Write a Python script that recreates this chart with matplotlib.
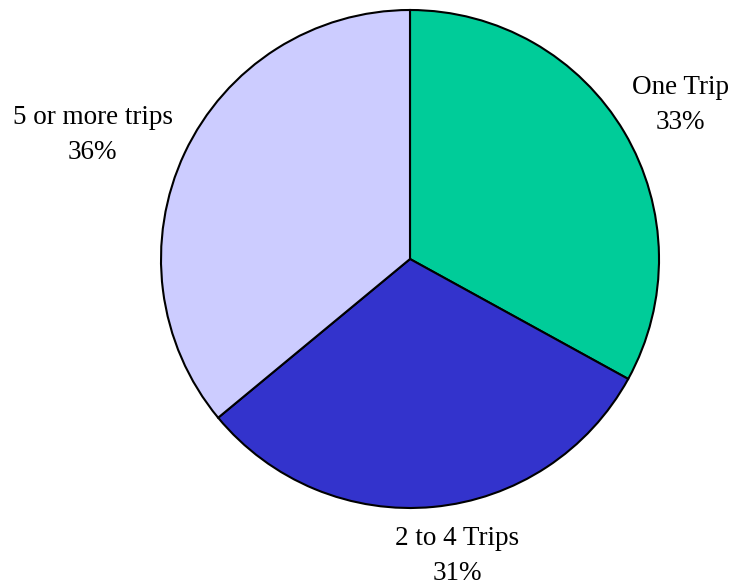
"""
Pie chart of trip counts.
"""

import matplotlib.pyplot as plt

labels = ["One Trip", "2 to 4 Trips", "5 or more trips"]
shares = [33, 31, 36]
colors = ["#00CC99", "#3333CC", "#CCCCFF"]

# label block centres, in pie radius units
label_xy = [(1.086, 0.619), (0.19, -1.193), (-1.275, 0.498)]

plt.rcParams["font.family"] = ["Liberation Serif", "DejaVu Serif"]

W, H = 736, 586
dpi = 100
fig = plt.figure(figsize=(W / dpi, H / dpi), dpi=dpi)
cx, cy, r = 410, 259, 249
ax = fig.add_axes([(cx - r) / W, (H - cy - r) / H, 2 * r / W, 2 * r / H])
ax.axis("off")

ax.pie(shares, colors=colors, startangle=90, counterclock=False, radius=1,
       wedgeprops=dict(edgecolor="black", linewidth=1.5))
ax.set(xlim=[-1, 1], ylim=[-1, 1], aspect=1)

for name, share, (x, y) in zip(labels, shares, label_xy):
    ax.text(x, y, f"{name}\n{share}%", ha="center", va="center",
            fontsize=19.5, linespacing=1.5, clip_on=False)

fig.savefig("out.png", dpi=dpi, facecolor="white")
